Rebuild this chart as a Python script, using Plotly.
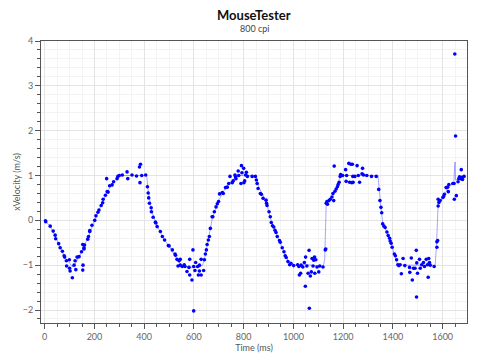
import plotly.graph_objects as go

# Sample points (time ms, x velocity m/s)
pt_time = [3, 4, 22, 34, 42, 44, 56, 62, 71, 78, 80, 87, 88, 99, 100, 102, 111, 118, 122, 125,
           130, 138, 148, 153, 153, 154, 158, 158, 160, 173, 176, 181, 181, 190, 201, 206, 214, 218, 227, 233,
           235, 244, 249, 251, 255, 261, 271, 277, 291, 294, 300, 312, 331, 334, 351, 369, 381, 383, 385, 390,
           406, 413, 416, 418, 421, 428, 429, 436, 445, 447, 452, 465, 473, 482, 497, 500, 513, 524, 526, 532,
           536, 540, 545, 545, 553, 561, 564, 572, 580, 583, 583, 592, 596, 599, 599, 604, 607, 615, 618, 622,
           622, 629, 629, 639, 642, 646, 650, 653, 658, 662, 666, 673, 676, 682, 689, 694, 699, 703, 714, 718,
           727, 734, 740, 745, 754, 758, 765, 767, 769, 778, 780, 789, 791, 793, 800, 801, 804, 808, 811, 815,
           834, 847, 851, 854, 858, 867, 871, 878, 890, 892, 894, 902, 907, 911, 916, 921, 926, 930, 935, 944,
           947, 955, 962, 967, 971, 978, 985, 990, 1001, 1017, 1022, 1024, 1029, 1031, 1038, 1044, 1048, 1049, 1054, 1059,
           1063, 1064, 1068, 1072, 1075, 1079, 1082, 1085, 1086, 1090, 1095, 1102, 1106, 1119, 1128, 1130, 1132, 1135, 1137, 1143,
           1148, 1155, 1159, 1162, 1164, 1167, 1172, 1177, 1180, 1184, 1188, 1190, 1198, 1210, 1212, 1214, 1223, 1226, 1231, 1235,
           1237, 1239, 1240, 1247, 1256, 1261, 1266, 1276, 1278, 1282, 1295, 1314, 1333, 1343, 1348, 1352, 1355, 1359, 1364, 1369,
           1376, 1381, 1387, 1389, 1393, 1397, 1406, 1410, 1415, 1420, 1424, 1429, 1434, 1441, 1448, 1467, 1468, 1474, 1478, 1483,
           1489, 1494, 1495, 1496, 1499, 1507, 1510, 1516, 1523, 1527, 1534, 1539, 1542, 1544, 1547, 1550, 1566, 1577, 1577, 1580,
           1582, 1582, 1585, 1590, 1601, 1604, 1607, 1614, 1620, 1623, 1625, 1641, 1646, 1647, 1649, 1652, 1655, 1662, 1665, 1668,
           1673, 1675, 1678, 1680, 1686]
pt_vel = [-0.01, -0.03, -0.13, -0.24, -0.33, -0.41, -0.52, -0.61, -0.69, -0.79, -0.82, -0.90, -1.02, -0.88, -1.07, -1.13, -1.28, -1.00, -0.90, -1.10,
          -0.82, -0.81, -0.70, -0.54, -1.11, -1.00, -0.61, -0.64, -0.55, -0.42, -0.36, -0.25, -0.23, -0.11, 0.00, 0.10, 0.18, 0.23, 0.33, 0.39,
          0.47, 0.56, 0.93, 0.64, 0.63, 0.77, 0.79, 0.86, 0.93, 0.98, 1.00, 1.01, 1.08, 0.93, 1.01, 0.99, 1.19, 0.84, 1.25, 1.00,
          1.01, 0.75, 0.61, 0.50, 0.38, 0.28, 0.19, 0.07, -0.04, -0.06, -0.14, -0.25, -0.36, -0.44, -0.56, -0.57, -0.66, -0.75, -0.78, -0.87,
          -1.02, -0.90, -0.87, -1.00, -1.03, -0.99, -1.03, -1.14, -1.05, -0.87, -1.22, -1.33, -0.66, -1.03, -2.02, -1.12, -0.94, -1.03, -1.22, -1.13,
          -1.00, -1.22, -0.87, -1.12, -0.88, -0.75, -0.66, -0.54, -0.44, -0.36, -0.18, 0.08, 0.08, 0.19, 0.30, 0.37, 0.42, 0.59, 0.62, 0.60,
          0.73, 0.74, 0.82, 0.98, 0.84, 0.88, 1.01, 0.97, 0.93, 1.10, 1.00, 0.82, 1.22, 1.06, 1.16, 0.84, 0.88, 1.01, 1.07, 0.98,
          0.98, 0.98, 0.90, 0.82, 0.71, 0.60, 0.58, 0.49, 0.45, 0.38, 0.33, 0.19, 0.08, -0.05, -0.12, -0.15, -0.22, -0.27, -0.36, -0.45,
          -0.49, -0.61, -0.70, -0.79, -0.83, -0.92, -0.99, -0.96, -1.01, -0.99, -1.03, -1.22, -1.18, -1.00, -1.04, -0.94, -1.47, -0.82, -1.02, -1.18,
          -0.67, -1.96, -1.24, -1.15, -0.85, -1.02, -0.89, -0.82, -1.18, -0.88, -1.04, -1.15, -1.02, -1.04, -0.66, -0.64, 0.38, 0.42, 0.36, 0.44,
          0.47, 0.52, 0.60, 0.44, 1.21, 0.65, 0.70, 0.75, 0.80, 0.85, 0.98, 1.02, 1.00, 1.13, 0.87, 1.00, 1.27, 0.85, 1.25, 0.84,
          1.25, 0.98, 0.85, 0.98, 1.22, 1.00, 0.85, 1.04, 1.16, 1.01, 1.00, 0.98, 0.98, 0.69, 0.44, 0.29, 0.17, -0.08, -0.13, -0.16,
          -0.26, -0.34, -0.40, -0.46, -0.51, -0.60, -0.75, -0.79, -0.88, -0.99, -1.01, -0.99, -1.19, -0.85, -1.01, -1.05, -1.16, -0.84, -1.33, -1.07,
          -1.07, -0.67, -1.71, -0.95, -1.18, -0.87, -1.07, -0.99, -0.94, -1.03, -0.87, -0.99, -1.27, -0.85, -0.94, -1.00, -1.03, -0.60, -0.48, -0.45,
          0.32, 0.47, 0.40, 0.44, 0.51, 0.53, 0.58, 0.73, 0.74, 0.64, 0.80, 0.82, 0.82, 0.47, 3.71, 1.88, 0.55, 0.86, 0.93, 0.97,
          0.93, 1.13, 0.96, 0.91, 0.98]

# Smoothed trace
ln_time = [0, 20, 40, 60, 80, 100, 111, 125, 140, 155, 175, 200, 225, 250, 275, 300, 405, 410, 415, 430,
           450, 480, 500, 530, 550, 590, 620, 635, 645, 660, 675, 700, 730, 760, 780, 850, 860, 890, 910, 940,
           970, 985, 1000, 1020, 1035, 1040, 1120, 1126, 1132, 1160, 1180, 1190, 1200, 1340, 1350, 1360, 1380, 1400, 1420, 1570,
           1575, 1582, 1600, 1620, 1645, 1650, 1652, 1660, 1690]
ln_vel = [0.0, -0.12, -0.32, -0.58, -0.82, -0.95, -1.04, -0.95, -0.80, -0.60, -0.38, 0.0, 0.32, 0.62, 0.85, 1.0, 1.0, 1.0, 0.7, 0.2,
          -0.1, -0.43, -0.57, -0.85, -1.0, -1.05, -1.05, -1.0, -0.8, -0.4, 0.08, 0.45, 0.75, 0.93, 1.0, 1.0, 0.75, 0.42, 0.0, -0.42,
          -0.8, -0.98, -1.0, -1.0, -1.05, -0.98, -1.03, -0.85, 0.42, 0.55, 0.85, 0.98, 1.0, 1.0, 0.4, -0.1, -0.3, -0.65, -1.0, -1.0,
          -0.6, 0.35, 0.5, 0.7, 0.85, 1.3, 0.9, 0.92, 0.97]

FONT = "Lato"
fig = go.Figure()
fig.add_trace(go.Scatter(x=ln_time, y=ln_vel, mode="lines",
                         line=dict(color="rgba(60,60,255,0.45)", width=1), hoverinfo="skip"))
fig.add_trace(go.Scatter(x=pt_time, y=pt_vel, mode="markers",
                         marker=dict(color="#0000ff", size=3.6, line=dict(width=0))))

axis_common = dict(
    showline=True, linecolor="#555555", linewidth=1, mirror=True,
    ticks="outside", ticklen=5, tickcolor="#555555",
    showgrid=True, gridcolor="#e4e4e4", gridwidth=1,
    zeroline=False, automargin=False,
    tickfont=dict(family=FONT, size=9, color="#666666"),
)

fig.update_layout(
    width=480, height=360,
    margin=dict(l=41, r=13, t=41, b=37),
    paper_bgcolor="white", plot_bgcolor="white",
    showlegend=False,
    xaxis=dict(range=[-15, 1698], dtick=200, tick0=0,
               minor=dict(dtick=50, ticks="outside", ticklen=3, tickcolor="#555555",
                          showgrid=True, gridcolor="#f3f3f3"),
               title=dict(text="Time (ms)", font=dict(family=FONT, size=9, color="#555555"), standoff=0),
               **axis_common),
    yaxis=dict(range=[-2.29, 4], dtick=1, tick0=0,
               minor=dict(dtick=0.2, ticks="outside", ticklen=3, tickcolor="#555555",
                          showgrid=True, gridcolor="#f3f3f3"),
               title=dict(text="xVelocity (m/s)", font=dict(family=FONT, size=9, color="#555555"), standoff=0),
               **axis_common),
    annotations=[
        dict(text="<b>MouseTester</b>", xref="paper", yref="paper", x=0.5, y=1,
             yshift=26, xanchor="center", yanchor="middle", showarrow=False,
             font=dict(family=FONT, size=13, color="#111111")),
        dict(text="800 cpi", xref="paper", yref="paper", x=0.5, y=1,
             yshift=13, xanchor="center", yanchor="middle", showarrow=False,
             font=dict(family=FONT, size=9, color="#444444")),
    ],
)

fig.write_html("out.html", config={"displayModeBar": False},
               post_script="document.body.style.margin='0';document.body.style.padding='0';")
